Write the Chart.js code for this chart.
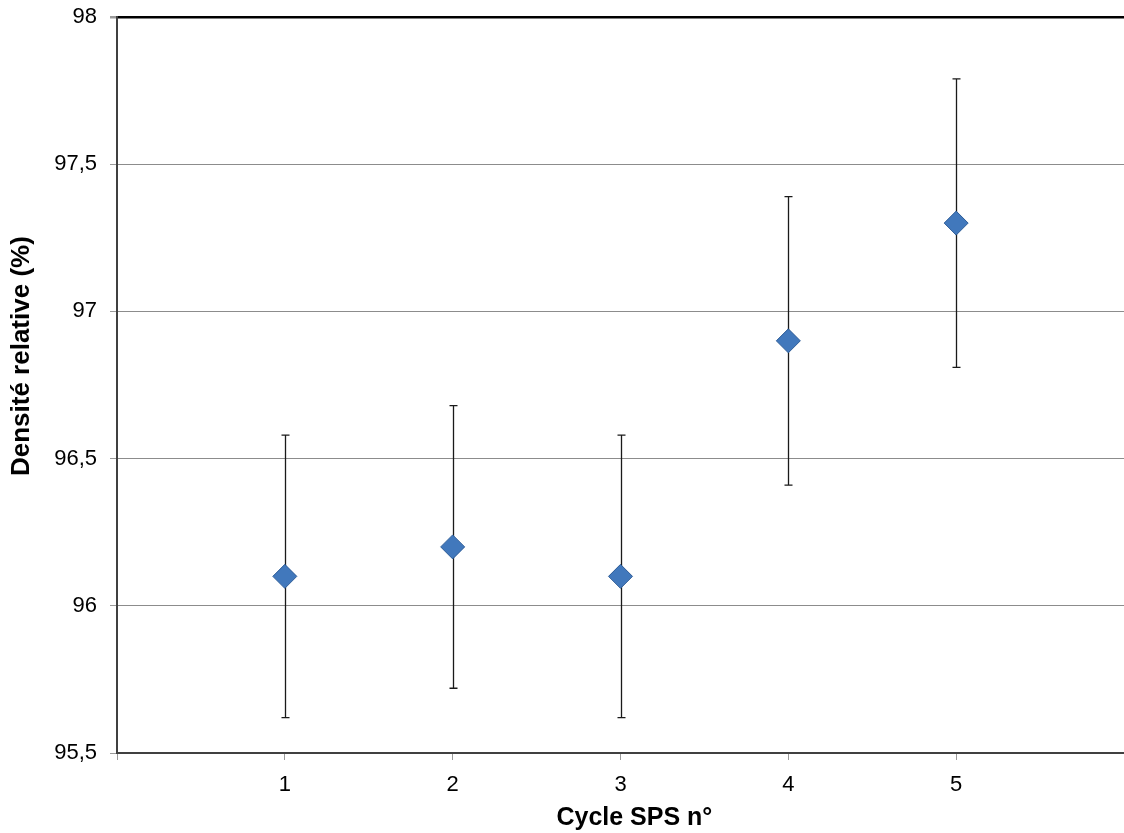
<!DOCTYPE html>
<html>
<head>
<meta charset="utf-8">
<script src="https://cdn.jsdelivr.net/npm/chart.js@4/dist/chart.umd.min.js"></script>
<style>
  body { margin: 0; background: #fff; }
  canvas { display: block; }
</style>
</head>
<body>
<canvas id="densityChart" width="1124" height="833"></canvas>
<script>
// data
const cycles = [1, 2, 3, 4, 5];
const density = [96.1, 96.2, 96.1, 96.9, 97.3];
const errorBars = [0.48, 0.48, 0.48, 0.49, 0.49];
const yTicks = [95.5, 96, 96.5, 97, 97.5, 98];

const points = cycles.map((c, i) => ({ x: c, y: density[i] }));

// vertical error bars with small caps
const errorBarPlugin = {
    id: 'errorBars',
    beforeDatasetsDraw(chart) {
        const ctx = chart.ctx;
        const xs = chart.scales.x, ys = chart.scales.y;
        ctx.save();
        ctx.strokeStyle = '#1a1a1a';
        ctx.lineWidth = 1.3;
        cycles.forEach((c, i) => {
            const px = Math.round(xs.getPixelForValue(c)) + 0.5;
            const top = ys.getPixelForValue(density[i] + errorBars[i]);
            const bot = ys.getPixelForValue(density[i] - errorBars[i]);
            ctx.beginPath();
            ctx.moveTo(px, top);
            ctx.lineTo(px, bot);
            ctx.moveTo(px - 4, top);
            ctx.lineTo(px + 4, top);
            ctx.moveTo(px - 4, bot);
            ctx.lineTo(px + 4, bot);
            ctx.stroke();
        });
        ctx.restore();
    }
};

// the titles in the original sit a little off-centre
const nb = n => '\u00a0'.repeat(n);

new Chart(document.getElementById('densityChart').getContext('2d'), {
    type: 'scatter',
    data: {
        datasets: [{
            data: points,
            pointStyle: 'rectRot',
            pointRadius: 12,
            pointHoverRadius: 12,
            backgroundColor: '#4178bc',
            borderColor: '#2d5c97',
            borderWidth: 1
        }]
    },
    plugins: [errorBarPlugin],
    options: {
        responsive: false,
        animation: false,
        layout: { autoPadding: false, padding: { top: 17, right: 0, left: 0, bottom: 0 } },
        plugins: {
            legend: { display: false },
            tooltip: { enabled: false }
        },
        scales: {
            x: {
                type: 'linear',
                min: 0,
                max: 6,
                afterFit(scale) {
                    scale.height = 80;
                    scale.paddingLeft = 0;
                    scale.paddingRight = 0;
                },
                ticks: {
                    stepSize: 1,
                    color: '#000',
                    font: { family: 'Liberation Sans, Arial', size: 22 },
                    padding: 12,
                    callback: v => (v >= 1 && v <= 5) ? String(v) : ''
                },
                grid: {
                    drawOnChartArea: false,
                    drawTicks: true,
                    tickLength: 7,
                    color: '#9a9a9a'
                },
                border: { color: '#404040', width: 2 },
                title: {
                    display: true,
                    text: nb(4) + 'Cycle SPS n°',
                    color: '#000',
                    font: { family: 'Liberation Sans, Arial', size: 25, weight: 'bold' },
                    padding: { top: 0, bottom: 0 }
                }
            },
            y: {
                min: 95.5,
                max: 98,
                afterFit(scale) {
                    scale.width = 117;
                    scale.paddingTop = 0;
                    scale.paddingBottom = 0;
                },
                afterBuildTicks(scale) { scale.ticks = yTicks.map(v => ({ value: v })); },
                ticks: {
                    color: '#000',
                    font: { family: 'Liberation Sans, Arial', size: 22 },
                    padding: 13,
                    callback: v => String(v).replace('.', ',')
                },
                grid: {
                    color: c => c.tick && c.tick.value === 98 ? '#000' : '#8c8c8c',
                    lineWidth: c => c.tick && c.tick.value === 98 ? 2.5 : 1,
                    tickColor: '#9a9a9a',
                    tickLength: 7
                },
                border: { color: '#404040', width: 2 },
                title: {
                    display: true,
                    text: nb(8) + 'Densité relative (%)',
                    color: '#000',
                    font: { family: 'Liberation Sans, Arial', size: 26, weight: 'bold' },
                    padding: { top: 6, bottom: 0 }
                }
            }
        }
    }
});
</script>
</body>
</html>
